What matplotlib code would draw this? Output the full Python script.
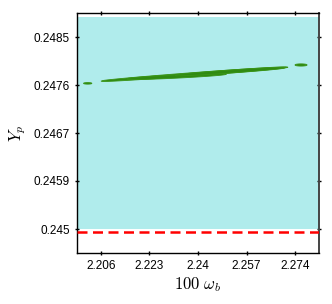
import numpy as np
import matplotlib
matplotlib.use("Agg")
import matplotlib.pyplot as plt

plt.rcParams['mathtext.fontset'] = 'cm'
plt.rcParams['font.family'] = ['Liberation Sans', 'DejaVu Sans']

# axis ranges
x_lim = (2.1976, 2.2824)
y_lim = (0.2445625, 0.2489375)
x_ticks = [2.206, 2.223, 2.24, 2.257, 2.274]
x_tick_labels = ["2.206", "2.223", "2.24", "2.257", "2.274"]
y_ticks = [0.245, 0.245875, 0.24675, 0.247625, 0.2485]
y_tick_labels = ["0.245", "0.2459", "0.2467", "0.2476", "0.2485"]

# allowed region (cyan band) and lower bound (red dashed)
band_low = 0.245
band_high = 0.24886
yp_bound = 0.24495

# green contour segments: x start, x end, y start, y end, half thickness
seg_x0 = [2.1999, 2.2060, 2.2150, 2.2320, 2.2740]
seg_x1 = [2.2028, 2.2715, 2.2500, 2.2705, 2.2782]
seg_y0 = [0.247655, 0.247695, 0.247735, 0.247800, 0.247990]
seg_y1 = [0.247655, 0.247950, 0.247825, 0.247940, 0.247990]
seg_h = [0.000014, 0.000030, 0.000030, 0.000028, 0.000020]

fig = plt.figure(figsize=(3.32, 3.04), dpi=100)
ax = fig.add_axes([77/332, 1-253/304, 242/332, 240/304])

ax.fill_between(x_lim, band_low, band_high, color='#b0ecec', lw=0, zorder=1)
ax.axhline(yp_bound, color='red', lw=1.8, ls=(0, (4, 2.2)), zorder=3)

t = np.linspace(0, 1, 100)
for x0, x1, y0, y1, h in zip(seg_x0, seg_x1, seg_y0, seg_y1, seg_h):
    xc = x0 + (x1 - x0) * t
    yc = y0 + (y1 - y0) * t
    w = h * np.clip(np.sin(np.pi * t), 0, None) ** 0.35
    xs = np.concatenate([xc, xc[::-1]])
    ys = np.concatenate([yc + w, (yc - w)[::-1]])
    ax.fill(xs, ys, color='#2f8a12', lw=0.6, ec='#3a9418', zorder=2)

ax.set_xlim(*x_lim)
ax.set_ylim(*y_lim)
ax.set_xticks(x_ticks)
ax.set_xticklabels(x_tick_labels)
ax.set_yticks(y_ticks)
ax.set_yticklabels(y_tick_labels)
ax.tick_params(direction='inout', top=True, right=True, labelsize=8.5, length=3.2, width=1)
ax.set_xlabel(r'$100\ \omega_b$', fontsize=12, labelpad=2)
ax.set_ylabel(r'$Y_p$', fontsize=12, labelpad=4)
for s in ax.spines.values():
    s.set_linewidth(1.0)
ax.spines['right'].set_color('#444444')
ax.spines['right'].set_linewidth(1.4)

fig.savefig('out.png', dpi=100)
